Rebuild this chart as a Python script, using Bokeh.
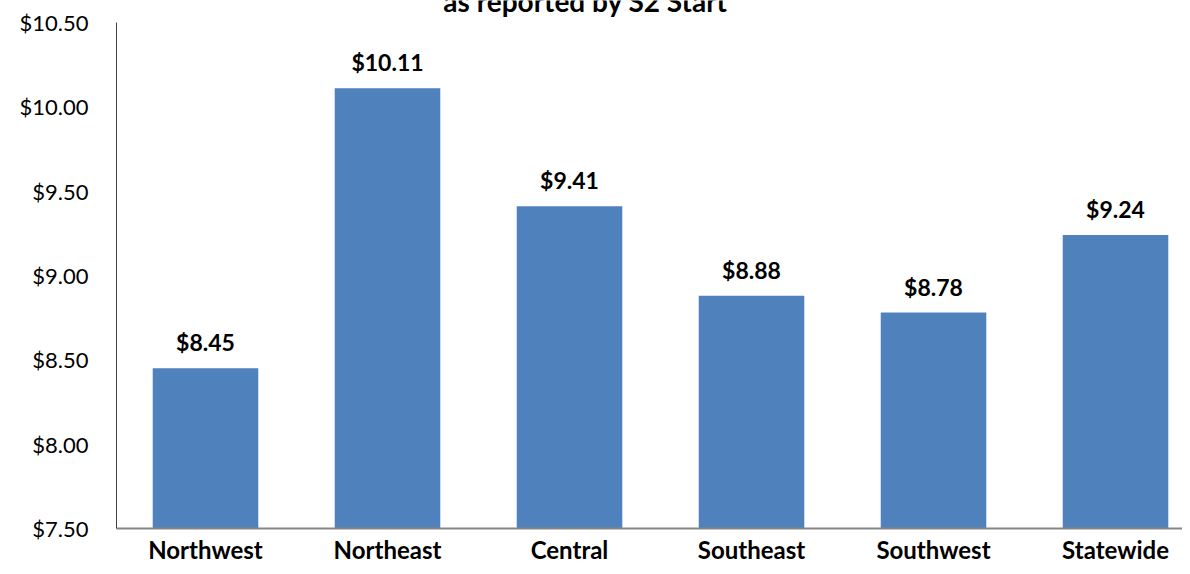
from bokeh.plotting import figure
from bokeh.models import ColumnDataSource, FixedTicker, Range1d
from bokeh.core.properties import value
from bokeh.embed import file_html
from bokeh.resources import INLINE
from bokeh.models import LabelSet

categories = ["Northwest", "Northeast", "Central", "Southeast", "Southwest", "Statewide"]
values = [8.45, 10.11, 9.41, 8.88, 8.78, 9.24]
value_labels = ["$8.45", "$10.11", "$9.41", "$8.88", "$8.78", "$9.24"]
y_ticks = [7.5, 8.0, 8.5, 9.0, 9.5, 10.0, 10.5]
y_tick_labels = ["$7.50", "$8.00", "$8.50", "$9.00", "$9.50", "$10.00", "$10.50"]
title_text = "as reported by S2 Start"

FONT = "Lato"
xs = list(range(len(categories)))
src = ColumnDataSource(dict(x=xs, top=values, lab=value_labels))

y_lo, y_hi = y_ticks[0], y_ticks[-1]
px_per_unit = 508 / (y_hi - y_lo)
y_top = y_hi + 22 / px_per_unit  # headroom above the axis for the (clipped) title

p = figure(width=1182, height=566, output_backend="svg", toolbar_location=None,
           x_range=Range1d(-0.489, 5.368), y_range=Range1d(y_lo, y_top),
           min_border_left=116, min_border_right=0, min_border_top=0, min_border_bottom=36)
p.outline_line_color = None
p.xgrid.visible = False
p.ygrid.visible = False
p.background_fill_color = "white"
p.border_fill_color = "white"

p.vbar(x="x", top="top", bottom=y_lo, width=0.58, source=src, fill_color="#4F81BD", line_color=None)

labels = LabelSet(x="x", y="top", text="lab", source=src, text_align="center", text_baseline="alphabetic",
                  y_offset=17, text_font=value(FONT), text_font_style="bold", text_font_size="23px",
                  text_color="black")
p.add_layout(labels)

# clipped chart title (only its lower part is visible, as in the source)
p.text(x=[2.088], y=[y_top], text=[title_text], text_align="center",
       text_baseline="alphabetic", text_font=value(FONT), text_font_style="bold",
       text_font_size="28px", text_color="black")

p.yaxis.ticker = FixedTicker(ticks=y_ticks)
p.yaxis.bounds = (y_lo, y_hi)
p.yaxis.major_label_overrides = {t: l for t, l in zip(y_ticks, y_tick_labels)}
p.yaxis.major_tick_in = 0
p.yaxis.major_tick_out = 0
p.yaxis.minor_tick_in = 0
p.yaxis.minor_tick_out = 0
p.yaxis.axis_line_color = "#404040"
p.yaxis.axis_line_width = 1
p.yaxis.major_label_standoff = 28
p.yaxis.major_label_text_font = FONT
p.yaxis.major_label_text_font_size = "22px"
p.yaxis.major_label_text_color = "black"

p.xaxis.ticker = FixedTicker(ticks=xs)
p.xaxis.major_label_overrides = {i: c for i, c in zip(xs, categories)}
p.xaxis.major_tick_in = 0
p.xaxis.major_tick_out = 0
p.xaxis.minor_tick_in = 0
p.xaxis.minor_tick_out = 0
p.xaxis.axis_line_color = "#868686"
p.xaxis.axis_line_width = 2
p.xaxis.major_label_standoff = 6
p.xaxis.major_label_text_font = FONT
p.xaxis.major_label_text_font_style = "bold"
p.xaxis.major_label_text_font_size = "24px"
p.xaxis.major_label_text_color = "black"

open("out.html", "w").write(file_html(p, INLINE))
